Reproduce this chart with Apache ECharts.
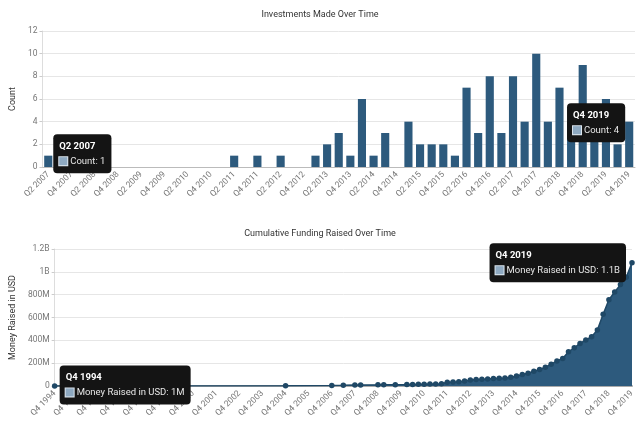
<!DOCTYPE html>
<html><head><meta charset="utf-8">
<script src="https://cdn.jsdelivr.net/npm/echarts@6/dist/echarts.min.js"></script>
<style>html,body{margin:0;padding:0;background:#fff}#c{width:640px;height:422px}</style>
</head><body><div id="c"></div>
<script>
function quarterRange(y0, q0, y1, q1) {
  var out = [], y = y0, q = q0;
  while (y < y1 || (y === y1 && q <= q1)) { out.push('Q' + q + ' ' + y); q++; if (q > 4) { q = 1; y++; } }
  return out;
}
// ---- Top chart data ----
var investQuarters = quarterRange(2007, 2, 2019, 4);
var investCounts = [
  1, 0, 0,              // 2007 Q2-Q4
  0, 0, 0, 0,           // 2008
  0, 0, 0, 0,           // 2009
  0, 0, 0, 0,           // 2010
  0, 1, 0, 1,           // 2011
  0, 1, 0, 0,           // 2012
  1, 2, 3, 1,           // 2013
  6, 1, 3, 0,           // 2014
  4, 2, 2, 2,           // 2015
  1, 7, 3, 8,           // 2016
  3, 8, 4, 10,          // 2017
  4, 7, 4, 9,           // 2018
  3, 6, 2, 4            // 2019
];
var investTips = ['Q2 2007', 'Q4 2019'];
var yTicksTop = { min: 0, max: 12, interval: 2 };

// ---- Bottom chart data (millions USD, cumulative) ----
var fundAxisQuarters = quarterRange(1994, 4, 2019, 4);
var fundQuarters = [
  'Q4 1994', 'Q4 2004', 'Q4 2006', 'Q2 2007', 'Q4 2007', 'Q1 2008', 'Q4 2008', 'Q1 2009', 'Q3 2009',
  'Q1 2010', 'Q2 2010', 'Q3 2010', 'Q4 2010',
  'Q1 2011', 'Q2 2011', 'Q3 2011', 'Q4 2011',
  'Q1 2012', 'Q2 2012', 'Q3 2012', 'Q4 2012',
  'Q1 2013', 'Q2 2013', 'Q3 2013', 'Q4 2013',
  'Q1 2014', 'Q2 2014', 'Q3 2014', 'Q4 2014',
  'Q1 2015', 'Q2 2015', 'Q3 2015', 'Q4 2015',
  'Q1 2016', 'Q2 2016', 'Q3 2016', 'Q4 2016',
  'Q1 2017', 'Q2 2017', 'Q3 2017', 'Q4 2017',
  'Q1 2018', 'Q2 2018', 'Q3 2018', 'Q4 2018',
  'Q1 2019', 'Q2 2019', 'Q3 2019', 'Q4 2019'
];
var fundValues = [
  1, 3, 5, 6, 8, 9, 10, 11, 12,
  13, 14, 15, 16,
  17, 18, 20, 32,
  35, 37, 44, 53,
  56, 59, 62, 65,
  68, 71, 76, 88,
  100, 112, 129, 144,
  165, 191, 220, 241,
  300, 335, 373, 403,
  432, 491, 629, 756,
  823, 888, 953, 1080
];
var fundTips = ['Q4 1994', 'Q4 2019'];
var yTicksBottom = { min: 0, max: 1200, interval: 200 };

function fmtMoney(v) {
  if (v === 0) return '0';
  if (v >= 1000) return (+(v / 1000).toFixed(1)) + 'B';
  return v + 'M';
}

var FONT = 'Roboto';
var BAR = '#2d5a7d';
var DARK = '#1f4866';
var tipRich = {
  t: { color: '#fff', fontWeight: 'bold', fontSize: 9.5, lineHeight: 16, fontFamily: FONT, width: '100%', align: 'left' },
  s: { width: 8, height: 8, backgroundColor: '#8ea9c1', borderColor: '#dde6ee', borderWidth: 1 },
  v: { color: '#e6e6e6', fontSize: 9.5, lineHeight: 14, fontFamily: FONT }
};
function tipLabel(pos, dist, offset) {
  return {
    show: true, position: pos, distance: dist, offset: offset, opacity: 1,
    backgroundColor: '#141414', borderRadius: 4, padding: [4, 6, 5, 6],
    rich: tipRich
  };
}

var chart = echarts.init(document.getElementById('c'), null, { renderer: 'canvas' });
var axisLabelStyle = { color: '#777', fontSize: 8.5, fontFamily: FONT };

chart.setOption({
  animation: false,
  textStyle: { fontFamily: FONT },
  title: [
    { text: 'Investments Made Over Time', left: 'center', top: 5, textStyle: { fontSize: 9, fontWeight: 'normal', color: '#333', fontFamily: FONT } },
    { text: 'Cumulative Funding Raised Over Time', left: 'center', top: 224, textStyle: { fontSize: 9, fontWeight: 'normal', color: '#333', fontFamily: FONT } }
  ],
  grid: [
    { left: 41, right: 5, top: 31, height: 136 },
    { left: 51, right: 8, top: 249, height: 137 }
  ],
  xAxis: [
    { type: 'category', gridIndex: 0, data: investQuarters, boundaryGap: true,
      axisLine: { lineStyle: { color: '#bbb' } }, axisTick: { show: false },
      axisLabel: Object.assign({ interval: 1, rotate: 45, margin: 6 }, axisLabelStyle) },
    { type: 'category', gridIndex: 1, data: fundAxisQuarters, boundaryGap: false,
      axisLine: { lineStyle: { color: '#aaa', width: 2 } }, axisTick: { show: false },
      axisLabel: Object.assign({ interval: 3, rotate: 45, margin: 6 }, axisLabelStyle) }
  ],
  yAxis: [
    { type: 'value', gridIndex: 0, min: yTicksTop.min, max: yTicksTop.max, interval: yTicksTop.interval,
      name: 'Count', nameLocation: 'middle', nameGap: 24, nameTextStyle: { color: '#333', fontSize: 9, fontFamily: FONT },
      axisLine: { show: true, lineStyle: { color: '#ddd' } }, axisTick: { show: true, length: 3, lineStyle: { color: '#ccc' } },
      splitLine: { lineStyle: { color: '#e6e6e6' } },
      axisLabel: Object.assign({ margin: 5 }, axisLabelStyle) },
    { type: 'value', gridIndex: 1, min: yTicksBottom.min, max: yTicksBottom.max, interval: yTicksBottom.interval,
      name: 'Money Raised in USD', nameLocation: 'middle', nameGap: 37, nameTextStyle: { color: '#333', fontSize: 9, fontFamily: FONT },
      axisLine: { show: true, lineStyle: { color: '#ddd' } }, axisTick: { show: true, length: 3, lineStyle: { color: '#ccc' } },
      splitLine: { lineStyle: { color: '#e6e6e6' } },
      axisLabel: Object.assign({ margin: 5, formatter: fmtMoney }, axisLabelStyle) }
  ],
  series: [
    { type: 'bar', xAxisIndex: 0, yAxisIndex: 0, data: investCounts, barWidth: '70%',
      itemStyle: { color: BAR, borderWidth: 0 } },
    { type: 'scatter', xAxisIndex: 0, yAxisIndex: 0, z: 20, symbolSize: 0,
      itemStyle: { color: '#141414', opacity: 1 },
      data: investTips.map(function (q, i) {
        return { value: [q, investCounts[investQuarters.indexOf(q)]],
          label: i === 0 ? tipLabel('right', 5, [0, -2]) : tipLabel('left', 4, [0, 1]) };
      }),
      label: { formatter: function (p) { return '{t|' + p.value[0] + '}\n{s|} {v|Count: ' + p.value[1] + '}'; } } },
    { type: 'line', xAxisIndex: 1, yAxisIndex: 1,
      data: fundQuarters.map(function (q, i) { return [q, fundValues[i]]; }),
      symbol: 'circle', symbolSize: 5.5, showAllSymbol: true,
      lineStyle: { color: DARK, width: 1.5 }, itemStyle: { color: DARK },
      areaStyle: { color: BAR, opacity: 1 } },
    { type: 'scatter', xAxisIndex: 1, yAxisIndex: 1, z: 20, symbolSize: 0,
      itemStyle: { color: '#141414', opacity: 1 },
      data: fundTips.map(function (q, i) {
        return { value: [q, fundValues[fundQuarters.indexOf(q)]],
          label: i === 0 ? tipLabel('right', 5, [0, -1]) : tipLabel('left', 6, [0, 0]) };
      }),
      label: { formatter: function (p) { return '{t|' + p.value[0] + '}\n{s|} {v|Money Raised in USD: ' + fmtMoney(p.value[1]) + '}'; } } }
  ]
});
</script></body></html>
